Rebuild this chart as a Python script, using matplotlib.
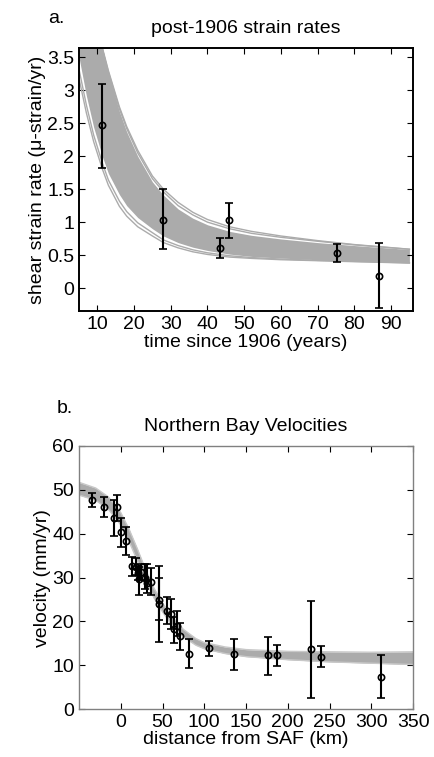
import numpy as np
import matplotlib.pyplot as plt

plt.rcParams['font.family'] = ['Liberation Sans', 'DejaVu Sans']

# ---- panel a: post-1906 strain rates ----
t_obs = np.array([11.4, 27.8, 43.3, 45.9, 75.4, 86.7])
rate_obs = np.array([2.47, 1.04, 0.61, 1.03, 0.53, 0.19])
rate_hi = np.array([3.10, 1.50, 0.76, 1.29, 0.67, 0.69])
rate_lo = np.array([1.82, 0.59, 0.45, 0.76, 0.40, -0.31])

# model curves: dense core of the bundle plus a few stray curves
t_band = np.array([5, 7, 9, 11.4, 13, 16, 18, 21, 25, 28, 32, 36, 40, 46, 52, 60, 70, 80, 95])
core_top = np.array([6.5, 5.4, 4.5, 3.64, 3.27, 2.68, 2.37, 2.00, 1.61, 1.41, 1.20, 1.06, 0.96, 0.86, 0.80, 0.745, 0.69, 0.645, 0.585])
core_bot = np.array([3.50, 2.92, 2.44, 1.99, 1.74, 1.42, 1.25, 1.07, 0.90, 0.79, 0.69, 0.62, 0.57, 0.515, 0.48, 0.455, 0.43, 0.41, 0.383])
curve_hi1 = np.array([6.5, 5.4, 4.5, 3.64, 3.30, 2.75, 2.45, 2.09, 1.70, 1.50, 1.30, 1.15, 1.04, 0.93, 0.86, 0.79, 0.72, 0.66, 0.59])
curve_hi2 = np.array([6.4, 5.3, 4.4, 3.62, 3.28, 2.72, 2.42, 2.05, 1.66, 1.46, 1.25, 1.11, 1.00, 0.90, 0.83, 0.77, 0.71, 0.655, 0.588])
curve_lo1 = np.array([3.18, 2.66, 2.22, 1.80, 1.56, 1.24, 1.09, 0.93, 0.79, 0.69, 0.61, 0.55, 0.51, 0.47, 0.45, 0.43, 0.415, 0.40, 0.38])
curve_lo2 = np.array([3.32, 2.78, 2.32, 1.89, 1.64, 1.32, 1.16, 0.99, 0.84, 0.73, 0.645, 0.58, 0.535, 0.49, 0.463, 0.44, 0.42, 0.405, 0.382])

# ---- panel b: Northern Bay velocities ----
x_obs = np.array([-33.9, -19.5, -8.0, -4.0, 0.8, 6.8, 14.0, 18.8, 20.4, 21.9, 24.3,
                  29.6, 31.1, 35.9, 46.3, 46.3, 55.9, 59.9, 64.2, 67.8, 71.4, 81.4,
                  106.1, 135.3, 176.8, 186.7, 228.3, 240.2, 312.0])
v_obs = np.array([47.7, 46.0, 43.6, 46.0, 40.4, 38.3, 32.6, 32.5, 31.0, 29.7, 31.2,
                  30.0, 28.8, 29.0, 25.0, 24.0, 22.5, 21.8, 18.4, 19.0, 16.6, 12.7,
                  13.9, 12.6, 12.3, 12.3, 13.8, 12.0, 7.4])
v_hi = np.array([49.3, 48.3, 47.6, 48.8, 43.5, 41.5, 34.6, 34.5, 32.6, 32.3, 33.2,
                 33.2, 33.1, 32.1, 29.8, 32.7, 25.6, 25.1, 21.1, 22.3, 19.6, 16.0,
                 15.6, 16.1, 16.5, 14.6, 24.7, 14.5, 12.4])
v_lo = np.array([46.1, 43.7, 39.5, 42.9, 37.0, 35.1, 30.4, 30.5, 29.4, 26.0, 29.4,
                 27.3, 26.5, 26.0, 20.3, 15.4, 19.4, 18.4, 15.2, 16.7, 13.5, 9.3,
                 12.1, 9.0, 7.9, 9.9, 2.5, 9.6, 2.5])

x_band = np.array([-50, -30, -15, 0, 10, 20, 30, 40, 50, 60, 75, 90, 100, 125, 150, 200, 250, 300, 350])
vband_top = np.array([51.7, 50.4, 48.4, 44.8, 41.0, 36.5, 31.7, 27.5, 24.2, 21.4, 18.2, 16.1, 15.2, 14.2, 13.6, 13.2, 13.1, 13.0, 13.1])
vband_bot = np.array([48.8, 47.6, 45.6, 42.0, 38.2, 33.8, 29.3, 25.3, 22.2, 19.5, 16.5, 14.6, 13.8, 12.7, 12.0, 11.3, 10.8, 10.5, 10.2])

band_col = '#ababab'
fs = 14

fig = plt.figure(figsize=(4.35, 7.57), dpi=100)
ax1 = fig.add_axes([0.1816, 0.589, 0.768, 0.3474])
ax2 = fig.add_axes([0.1816, 0.063, 0.768, 0.348])

# panel a
ax1.fill_between(t_band, core_bot, core_top, color=band_col, lw=0)
for c in (curve_hi1, curve_hi2, curve_lo1, curve_lo2):
    ax1.plot(t_band, c, color=band_col, lw=1)
ax1.errorbar(t_obs, rate_obs, yerr=[rate_obs - rate_lo, rate_hi - rate_obs],
             fmt='o', color='k', mfc='none', mec='k', ms=4.5, mew=1.2,
             elinewidth=1.5, capsize=3, capthick=1.3)
ax1.set_xlim(5, 96)
ax1.set_ylim(-0.35, 3.64)
ax1.set_xticks(np.arange(10, 91, 10))
ax1.set_yticks(np.arange(0, 3.6, 0.5))
ax1.set_yticklabels(['0', '0.5', '1', '1.5', '2', '2.5', '3', '3.5'])
ax1.set_xlabel('time since 1906 (years)', fontsize=fs, labelpad=1)
ax1.set_ylabel('shear strain rate (\u03bc-strain/yr)', fontsize=fs, labelpad=1)
ax1.set_title('post-1906 strain rates', fontsize=fs, pad=11)
for s in ax1.spines.values():
    s.set_linewidth(1.4)
    s.set_color('k')
fig.text(0.11, 0.975, 'a.', fontsize=fs, ha='left', va='center')

# panel b
ax2.fill_between(x_band, vband_bot, vband_top, color=band_col, lw=0)
ax2.plot(x_band, vband_top, color='#c8c8c8', lw=1)
ax2.plot(x_band, vband_bot, color='#c8c8c8', lw=1)
ax2.errorbar(x_obs, v_obs, yerr=[v_obs - v_lo, v_hi - v_obs],
             fmt='o', color='k', mfc='none', mec='k', ms=4.5, mew=1.2,
             elinewidth=1.5, capsize=3, capthick=1.3)
ax2.set_xlim(-50, 350)
ax2.set_ylim(0, 60)
ax2.set_xticks(np.arange(0, 351, 50))
ax2.set_yticks(np.arange(0, 61, 10))
ax2.set_xlabel('distance from SAF (km)', fontsize=fs, labelpad=0)
ax2.set_ylabel('velocity (mm/yr)', fontsize=fs, labelpad=1)
ax2.set_title('Northern Bay Velocities', fontsize=fs, pad=11)
for s in ax2.spines.values():
    s.set_linewidth(1.0)
    s.set_color('#808080')
fig.text(0.13, 0.461, 'b.', fontsize=fs, ha='left', va='center')

for ax in (ax1, ax2):
    ax.tick_params(direction='in', top=True, right=True, length=4,
                   labelsize=14, width=0.8)

fig.savefig('out.png', dpi=100)
